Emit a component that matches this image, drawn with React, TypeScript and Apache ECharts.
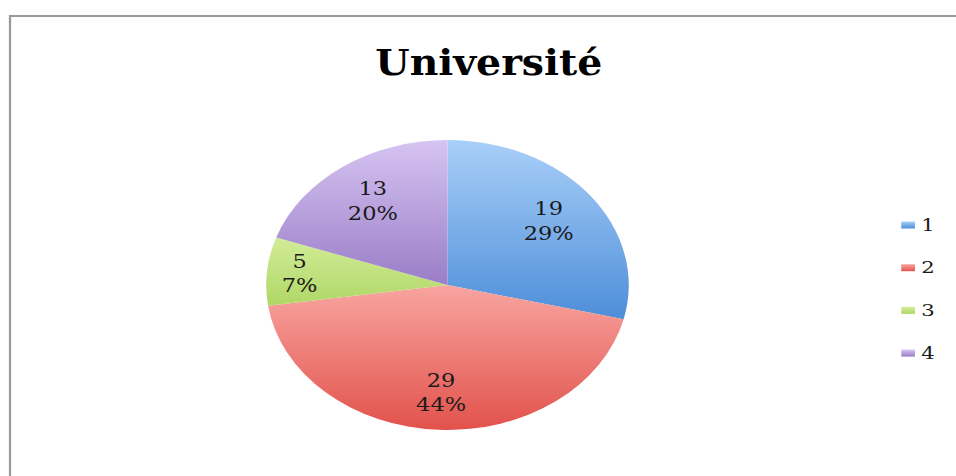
import React, { useEffect, useRef } from "react";
import * as echarts from "echarts";

const categories = ["1", "2", "3", "4"];
const values = [19, 29, 5, 13];
const chartTitle = "Université";

// styles (kept separate from data)
const topColors = ["#a9cff8", "#f8a5a0", "#d2ec98", "#d6c4f2"];
const bottomColors = ["#4d8ed9", "#e2524c", "#b0d767", "#9a7dc7"];
const labelRadiusRatio = [0.71, 0.745, 0.82, 0.71];

const SX = 1.25; // horizontal stretch of the reference picture
const W = 956 / SX;
const H = 476;
const CX = 358;
const CY = 285;
const R = 145;

export default function App() {
  const ref = useRef<HTMLDivElement>(null);
  useEffect(() => {
    if (!ref.current) return;
    const chart = echarts.init(ref.current, null, { renderer: "svg" });
    const total = values.reduce((a, b) => a + b, 0);
    const cum: number[] = [];
    values.reduce((acc, v, i) => {
      cum[i] = acc;
      return acc + v;
    }, 0);
    chart.setOption({
      animation: false,
      backgroundColor: "#ffffff",
      title: {
        text: chartTitle,
        left: 391,
        top: 45.5,
        padding: 0,
        textAlign: "center",
        textStyle: {
          fontFamily: "'DejaVu Serif Condensed', 'DejaVu Serif', serif",
          fontWeight: "bold",
          fontSize: 35,
          lineHeight: 35,
          color: "#000000",
        },
      },
      legend: {
        orient: "vertical",
        left: 721,
        top: 216,
        padding: 0,
        itemWidth: 11,
        itemHeight: 7,
        itemGap: 24.7,
        icon: "rect",
        data: categories,
        textStyle: {
          fontFamily: "'DejaVu Serif', serif",
          fontSize: 17,
          lineHeight: 18,
          color: "#1a1a1a",
        },
      },
      graphic: [
        {
          type: "rect",
          shape: { x: 8, y: 16, width: W + 40, height: H + 40 },
          style: { fill: "none", stroke: "#9a9a9a", lineWidth: 1.8 },
          silent: true,
          z: -1,
        },
      ],
      series: [
        {
          type: "pie",
          center: [CX, CY],
          radius: [0, R],
          startAngle: 90,
          clockwise: true,
          percentPrecision: 0,
          avoidLabelOverlap: false,
          labelLine: { show: false },
          label: {
            show: true,
            position: "inside",
            formatter: "{c}\n{d}%",
            fontFamily: "'DejaVu Serif', serif",
            fontSize: 18,
            lineHeight: 24.5,
            color: "#1a1a1a",
            align: "center",
            verticalAlign: "middle",
          },
          labelLayout: (params: any) => {
            const i = params.dataIndex;
            const a = ((cum[i] + values[i] / 2) / total) * Math.PI * 2;
            const rr = labelRadiusRatio[i] * R;
            return {
              x: CX + rr * Math.sin(a),
              y: CY - rr * Math.cos(a),
              align: "center",
              verticalAlign: "middle",
            };
          },
          emphasis: { disabled: true },
          data: categories.map((name, i) => ({
            name,
            value: values[i],
            itemStyle: {
              color: new echarts.graphic.LinearGradient(0, 0, 0, 1, [
                { offset: 0, color: topColors[i] },
                { offset: 1, color: bottomColors[i] },
              ]),
              borderWidth: 0,
            },
          })),
        },
      ],
    });
    return () => chart.dispose();
  }, []);
  return (
    <div
      style={{
        position: "fixed",
        left: 0,
        top: 0,
        width: 956,
        height: H,
        overflow: "hidden",
        background: "#ffffff",
      }}
    >
      <div
        ref={ref}
        style={{
          width: W,
          height: H,
          transform: `scaleX(${SX})`,
          transformOrigin: "0 0",
        }}
      />
    </div>
  );
}
